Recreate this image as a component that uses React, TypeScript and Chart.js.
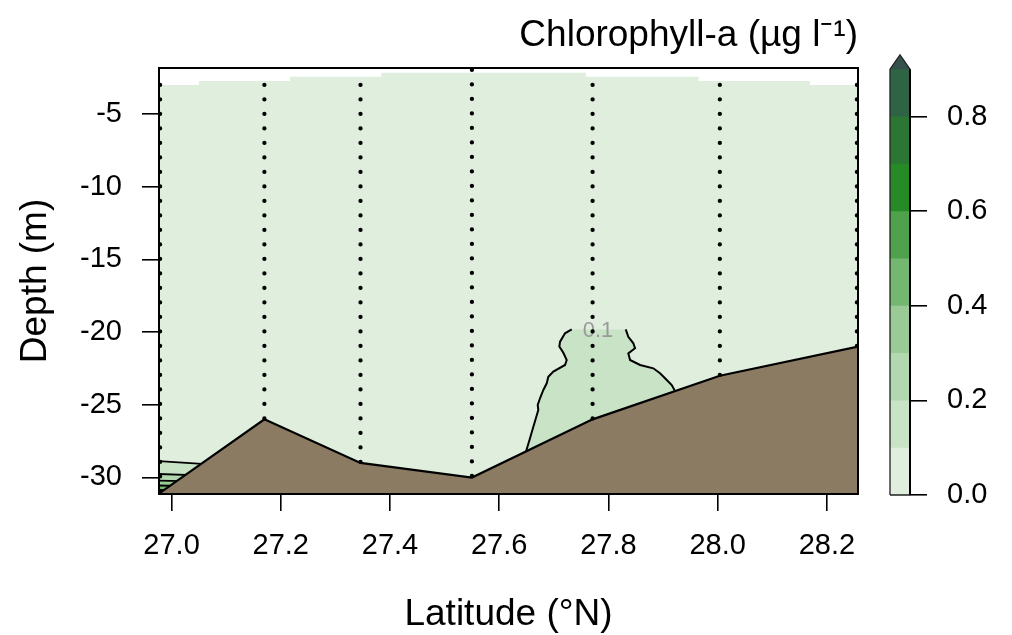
import React, { useEffect, useRef } from 'react';
import { Chart, registerables } from 'chart.js';

Chart.register(...registerables);

const FONT = "'Liberation Sans', Arial, Helvetica, sans-serif";

// ---- axes ----
const xTickValues = [27.0, 27.2, 27.4, 27.6, 27.8, 28.0, 28.2];
const yTickValues = [-5, -10, -15, -20, -25, -30];
const latRange = [26.977, 28.257];
const depthRange = [-31.135, -1.836];

// ---- stations (CTD casts) ----
const stationLat = [26.979, 27.17, 27.346, 27.55, 27.771, 28.004, 28.255];
const stationTop = [-3.0, -3.0, -3.0, -1.97, -3.0, -3.0, -3.0];
const stationBottom = [-31.1, -26.0, -29.0, -30.0, -26.0, -23.0, -21.0];

// ---- seabed ----
const bathyLat = [26.977, 27.17, 27.346, 27.55, 27.771, 28.004, 28.257];
const bathyDepth = [-31.1, -26.0, -29.0, -30.0, -26.0, -23.0, -21.0];

// ---- top of gridded field (steps) ----
const surfaceLat = [26.977, 27.0505, 27.217, 27.384, 27.759, 27.965, 28.169, 28.257];
const surfaceDepth = [-3.0, -2.73, -2.43, -2.16, -2.43, -2.73, -3.0, -3.0];

// ---- colour levels ----
const levels = [0, 0.1, 0.2, 0.3, 0.4, 0.5, 0.6, 0.7, 0.8, 0.9];
const bandColors = ['#dfeedd', '#c8e3c6', '#b1d8ae', '#9acb96', '#74b770', '#4fa24b', '#268b26', '#2c7634', '#2e6343'];
const overColor = '#34524b';
const colorbarTop = 0.93;
const colorbarTickValues = [0, 0.2, 0.4, 0.6, 0.8];

// ---- contours near the bottom-left corner (levels 0.1 .. 0.5) ----
const cornerLevelIndex = [1, 2, 3, 4, 5];
const cornerLat = [
  [26.977, 27.07],
  [26.977, 27.05],
  [26.977, 27.04],
  [26.977, 27.03],
  [26.977, 27.02],
];
const cornerDepth = [
  [-28.87, -29.1],
  [-29.76, -29.85],
  [-30.21, -30.27],
  [-30.55, -30.6],
  [-30.86, -30.9],
];

// ---- 0.1 contour patch near 27.8 N ----
const blobLeftLat = [27.7328, 27.7205, 27.7114, 27.7101, 27.7174, 27.7236, 27.7205, 27.6991, 27.6899, 27.687, 27.6808, 27.6747, 27.6705, 27.6716, 27.6625, 27.6564, 27.6491];
const blobLeftDepth = [-19.81, -20.08, -20.66, -21.0, -21.42, -21.92, -22.26, -22.72, -23.07, -23.52, -23.98, -24.55, -25.01, -25.36, -26.51, -27.3, -28.21];
const blobRightLat = [27.8317, 27.8364, 27.8456, 27.8487, 27.8364, 27.8396, 27.8579, 27.8822, 27.8945, 27.9068, 27.9159, 27.922, 27.922];
const blobRightDepth = [-19.81, -20.32, -20.77, -21.11, -21.46, -21.92, -22.26, -22.49, -22.83, -23.29, -23.64, -24.06, -28.6];
const contourLabel = { text: '0.1', lat: 27.781, depth: -19.95 };

const pts = (xs: number[], ys: number[]) => xs.map((x, i) => ({ x, y: ys[i] }));

const tickFont = { family: FONT, size: 29 };
const titleFont = { family: FONT, size: 37 };

const labelPlugin = {
  id: 'contourLabel',
  afterDatasetDraw(chart: any, args: any) {
    if (chart.data.datasets[args.index].label !== 'Seabed') return;
    const { ctx, scales } = chart;
    ctx.save();
    ctx.font = `22px ${FONT}`;
    ctx.fillStyle = '#9a9a9a';
    ctx.textAlign = 'center';
    ctx.textBaseline = 'middle';
    ctx.fillText(contourLabel.text, scales.x.getPixelForValue(contourLabel.lat), scales.y.getPixelForValue(contourLabel.depth));
    ctx.restore();
  },
};

function SectionChart() {
  const ref = useRef<HTMLCanvasElement>(null);
  useEffect(() => {
    const datasets: any[] = [];
    datasets.push({
      label: 'Field', data: pts(surfaceLat, surfaceDepth), stepped: 'before', fill: 'start',
      backgroundColor: bandColors[0], borderWidth: 0, pointRadius: 0, order: 30,
    });
    cornerLevelIndex.forEach((li, k) => {
      datasets.push({
        label: 'Contour ' + levels[li], data: pts(cornerLat[k], cornerDepth[k]), fill: 'start',
        backgroundColor: bandColors[li], borderColor: '#000', borderWidth: 1.8, pointRadius: 0, order: 29 - k,
      });
    });
    datasets.push({
      label: 'Patch left', data: pts(blobLeftLat, blobLeftDepth), indexAxis: 'y', fill: '+1',
      backgroundColor: bandColors[1], borderColor: '#000', borderWidth: 2, pointRadius: 0, order: 20,
    });
    datasets.push({
      label: 'Patch right', data: pts(blobRightLat, blobRightDepth), indexAxis: 'y', fill: false,
      borderColor: '#000', borderWidth: 2, pointRadius: 0, order: 19,
    });
    datasets.push({
      label: 'Seabed', data: pts(bathyLat, bathyDepth), fill: 'start',
      backgroundColor: '#8b7b63', borderColor: '#000', borderWidth: 2.2, pointRadius: 0, order: 10,
    });
    stationLat.forEach((lat, i) => {
      datasets.push({
        label: 'Station ' + i, data: [{ x: lat, y: stationTop[i] }, { x: lat, y: stationBottom[i] }], fill: false,
        borderColor: '#000', borderWidth: 4.3, borderDash: [0, 14.5], borderCapStyle: 'round', pointRadius: 0, order: 5,
      });
    });

    const chart = new Chart(ref.current as HTMLCanvasElement, {
      type: 'line',
      data: { datasets },
      plugins: [labelPlugin],
      options: {
        animation: false,
        responsive: false,
        events: [],
        layout: { padding: { top: 0, right: 154, bottom: 0, left: 0 } },
        plugins: {
          legend: { display: false },
          tooltip: { enabled: false },
          title: {
            display: true, text: 'Chlorophyll-a (µg l⁻¹)', align: 'end', color: '#000',
            font: { ...titleFont, weight: 'normal' }, padding: { top: 13.5, bottom: 10.1 },
          },
        },
        elements: { line: { tension: 0 }, point: { radius: 0 } },
        scales: {
          x: {
            type: 'linear', position: 'bottom', min: latRange[0], max: latRange[1],
            afterBuildTicks: (s: any) => { s.ticks = xTickValues.map((v) => ({ value: v })); },
            afterFit: (s: any) => { s.height = 141; s.paddingLeft = 0; s.paddingRight = 0; },
            ticks: { font: tickFont, color: '#000', padding: 18, autoSkip: false, maxRotation: 0, callback: (v: any) => Number(v).toFixed(1) },
            grid: { display: true, drawOnChartArea: false, drawTicks: true, tickLength: 17, color: '#000', lineWidth: 1.6 },
            border: { display: true, color: '#000', width: 2, z: 1 },
            title: { display: true, text: 'Latitude (°N)', color: '#000', font: titleFont, padding: { top: 0, bottom: -1.5 } },
          },
          y: {
            type: 'linear', position: 'left', min: depthRange[0], max: depthRange[1],
            afterBuildTicks: (s: any) => { s.ticks = yTickValues.map((v) => ({ value: v })); },
            afterFit: (s: any) => { s.width = 159; s.paddingTop = 0; s.paddingBottom = 0; },
            ticks: { font: tickFont, color: '#000', padding: 20, autoSkip: false, callback: (v: any) => String(v) },
            grid: { display: true, drawOnChartArea: false, drawTicks: true, tickLength: 17, color: '#000', lineWidth: 1.6 },
            border: { display: true, color: '#000', width: 2, z: 1 },
            title: { display: true, text: 'Depth (m)', color: '#000', font: titleFont, padding: { top: 14, bottom: 0 } },
          },
          x2: {
            type: 'linear', position: 'top', min: latRange[0], max: latRange[1],
            ticks: { display: false }, grid: { display: false, drawTicks: false },
            border: { display: true, color: '#000', width: 2, z: 1 },
            afterFit: (s: any) => { s.height = 0; s.paddingLeft = 0; s.paddingRight = 0; },
          },
          y2: {
            type: 'linear', position: 'right', min: depthRange[0], max: depthRange[1],
            ticks: { display: false }, grid: { display: false, drawTicks: false },
            border: { display: true, color: '#000', width: 2, z: 1 },
            afterFit: (s: any) => { s.width = 0; s.paddingTop = 0; s.paddingBottom = 0; },
          },
        },
      } as any,
    });
    return () => chart.destroy();
  }, []);
  return <canvas ref={ref} width={1012} height={635} style={{ position: 'absolute', left: 0, top: 0 }} />;
}

function ColorBar() {
  const ref = useRef<HTMLCanvasElement>(null);
  useEffect(() => {
    const datasets: any[] = [];
    datasets.push({
      label: '> 0.9', data: [{ x: 0, y: levels[9] }, { x: 0.5, y: colorbarTop }, { x: 1, y: levels[9] }],
      fill: 'start', backgroundColor: overColor, borderWidth: 0, pointRadius: 0, order: 40,
    });
    for (let k = bandColors.length - 1; k >= 0; k--) {
      datasets.push({
        label: levels[k] + '-' + levels[k + 1], data: [{ x: 0, y: levels[k + 1] }, { x: 1, y: levels[k + 1] }],
        fill: 'start', backgroundColor: bandColors[k], borderWidth: 0, pointRadius: 0, order: 10 + k,
      });
    }
    datasets.push({
      label: 'outline',
      data: [{ x: 0, y: 0 }, { x: 0, y: levels[9] }, { x: 0.5, y: colorbarTop }, { x: 1, y: levels[9] }, { x: 1, y: 0 }, { x: 0, y: 0 }],
      fill: false, borderColor: '#222', borderWidth: 1.3, pointRadius: 0, clip: false, order: 2,
    });
    datasets.push({
      label: 'axis', data: [{ x: 1, y: 0 }, { x: 1, y: levels[9] }],
      fill: false, borderColor: '#000', borderWidth: 2, pointRadius: 0, clip: false, order: 1,
    });
    const chart = new Chart(ref.current as HTMLCanvasElement, {
      type: 'line',
      data: { datasets },
      options: {
        animation: false,
        responsive: false,
        events: [],
        layout: { padding: { left: 10, top: 15, right: 0, bottom: 35 } },
        plugins: { legend: { display: false }, tooltip: { enabled: false } },
        scales: {
          x: { type: 'linear', min: 0, max: 1, display: false },
          y: {
            type: 'linear', position: 'right', min: 0, max: colorbarTop,
            afterBuildTicks: (s: any) => { s.ticks = colorbarTickValues.map((v) => ({ value: v })); },
            afterFit: (s: any) => { s.width = 102; s.paddingTop = 0; s.paddingBottom = 0; },
            ticks: { font: tickFont, color: '#000', padding: 20, autoSkip: false, callback: (v: any) => Number(v).toFixed(1) },
            grid: { display: true, drawOnChartArea: false, drawTicks: true, tickLength: 17, color: '#000', lineWidth: 1.6 },
            border: { display: false },
          },
        },
      } as any,
    });
    return () => chart.destroy();
  }, []);
  return <canvas ref={ref} width={132} height={490} style={{ position: 'absolute', left: 880, top: 40 }} />;
}

export default function App() {
  return (
    <div style={{ position: 'absolute', left: 0, top: 0, width: 1012, height: 635, background: '#fff' }}>
      <SectionChart />
      <ColorBar />
    </div>
  );
}
